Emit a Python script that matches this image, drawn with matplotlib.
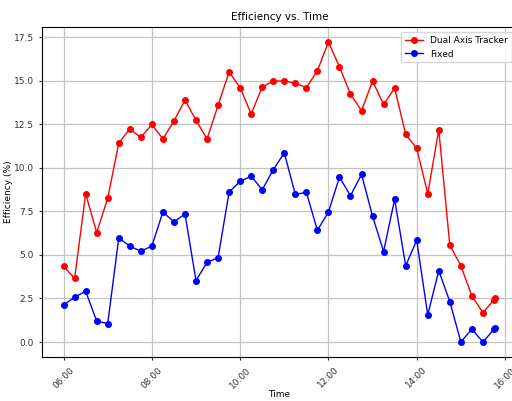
import datetime as dt
import matplotlib
matplotlib.use('Agg')
import matplotlib.pyplot as plt
import matplotlib.dates as mdates

# time stamps (every 15 min, plus one extra reading right at the end)
times = ['06:00', '06:15', '06:30', '06:45', '07:00', '07:15', '07:30', '07:45',
         '08:00', '08:15', '08:30', '08:45', '09:00', '09:15', '09:30', '09:45',
         '10:00', '10:15', '10:30', '10:45', '11:00', '11:15', '11:30', '11:45',
         '12:00', '12:15', '12:30', '12:45', '13:00', '13:15', '13:30', '13:45',
         '14:00', '14:15', '14:30', '14:45', '15:00', '15:15', '15:30', '15:45',
         '15:47']

dual_axis = [4.35, 3.66, 8.52, 6.29, 8.26, 11.44, 12.24, 11.76,
             12.5, 11.67, 12.7, 13.9, 12.74, 11.67, 13.6, 15.52,
             14.62, 13.1, 14.66, 15.0, 15.0, 14.87, 14.62, 15.58,
             17.24, 15.82, 14.24, 13.29, 15.0, 13.65, 14.59, 11.93,
             11.13, 8.52, 12.2, 5.57, 4.38, 2.65, 1.69, 2.42,
             2.52]

fixed = [2.13, 2.57, 2.92, 1.2, 1.06, 5.98, 5.51, 5.22,
         5.51, 7.47, 6.9, 7.36, 3.53, 4.58, 4.84, 8.62,
         9.23, 9.53, 8.75, 9.9, 10.87, 8.48, 8.6, 6.42,
         7.47, 9.47, 8.41, 9.63, 7.23, 5.2, 8.2, 4.38,
         5.85, 1.56, 4.1, 2.32, 0.0, 0.74, 0.0, 0.72,
         0.82]

x = [dt.datetime.strptime('2024-06-01 ' + t, '%Y-%m-%d %H:%M') for t in times]

fig = plt.figure(figsize=(5.12, 4.01), dpi=100)
# axes runs slightly past the right edge, like the cropped original
ax = fig.add_axes([42 / 512, 44 / 401, 475 / 512, 330 / 401])

ax.plot(x, dual_axis, marker='o', color='red', label='Dual Axis Tracker',
        linewidth=1.0, markersize=4)
ax.plot(x, fixed, marker='o', color='blue', label='Fixed',
        linewidth=1.0, markersize=4)

ax.xaxis.set_major_locator(mdates.HourLocator(interval=2))
ax.xaxis.set_major_formatter(mdates.DateFormatter('%H:%M'))
ax.tick_params(axis='both', labelsize=6.5, length=2.5, colors='#333333')
plt.setp(ax.get_xticklabels(), rotation=45)

ax.set_title('Efficiency vs. Time', fontsize=7.5, pad=5)
ax.set_xlabel('Time', fontsize=6.5)
ax.xaxis.set_label_coords(0.5, -0.1)
ax.set_ylabel('Efficiency (%)', fontsize=6.5)
ax.yaxis.set_label_coords(-0.06, 0.5)
ax.grid(True, color='#c4c4c4', linewidth=0.9)
ax.legend(loc='upper right', fontsize=6.5, borderaxespad=0.6)

fig.savefig('out.png', dpi=100)
